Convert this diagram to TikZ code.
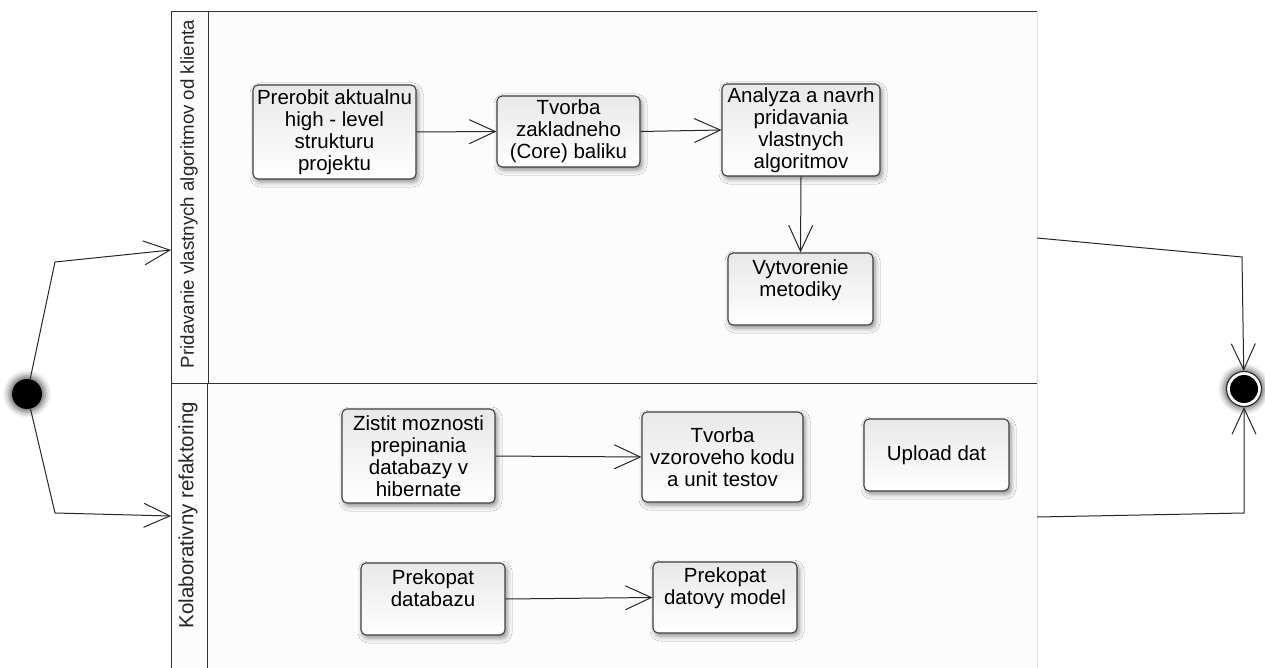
\documentclass[tikz,border=0pt]{standalone}
\usepackage{fontspec}
\setmainfont{Liberation Sans}
\usetikzlibrary{arrows.meta,shadows.blur}
\begin{document}
\begin{tikzpicture}[x=1pt,y=-1pt,
  act/.style={draw=black!75, line width=1.1pt, rounded corners=5pt,
    top color=black!9, bottom color=white,
    blur shadow={shadow xshift=2pt,shadow yshift=-3pt,shadow blur radius=5pt,shadow opacity=45},
    align=center, font=\fontsize{20.5}{22}\selectfont, inner sep=0pt, text=black},
  flow/.style={draw=black!85, line width=1pt,
    -{Straight Barb[length=26pt,width=24pt,line width=1pt]}},
  laneline/.style={draw=black!80, line width=1pt},
  faintline/.style={draw=black!12, line width=1pt},
  lanelabel/.style={rotate=90, text=black!85, inner sep=0pt}
]
\useasboundingbox (0,0) rectangle (1265,668);

% swimlanes
\fill[black!1] (171,12) rectangle (1037,668);
\draw[faintline] (1037,12) -- (1037,668);
\draw[laneline] (1037,12) -- (171,12) -- (171,668);
\draw[laneline] (171,383) -- (1037,383);
\draw[laneline] (208,12) -- (208,383);
\draw[laneline] (207,383) -- (207,668);

\node[lanelabel, font=\fontsize{18.7}{20}\selectfont] (lbl1) at (189,194) {Pridavanie vlastnych algoritmov od klienta};
\node[lanelabel, font=\fontsize{20.5}{22}\selectfont] (lbl2) at (188,515) {Kolaborativny refaktoring};

% activities
\node[act, minimum width=163pt, minimum height=94pt] (n1) at (334.5,132) {Prerobit aktualnu\\high - level\\strukturu\\projektu};
\node[act, minimum width=143pt, minimum height=71pt] (n2) at (568.5,131.5) {Tvorba\\zakladneho\\(Core) baliku};
\node[act, minimum width=158pt, minimum height=92pt] (n3) at (801,130) {Analyza a navrh\\pridavania\\vlastnych\\algoritmov};
\node[act, minimum width=145pt, minimum height=72pt] (n4) at (800.5,289) {Vytvorenie\\metodiky\\~};
\node[act, minimum width=153pt, minimum height=94pt] (n5) at (418.5,456) {Zistit moznosti\\prepinania\\databazy v\\hibernate};
\node[act, minimum width=161pt, minimum height=90pt] (n6) at (722.5,457) {Tvorba\\vzoroveho kodu\\a unit testov};
\node[act, minimum width=145pt, minimum height=72pt] (n7) at (936.5,455) {Upload dat};
\node[act, minimum width=144pt, minimum height=72pt] (n8) at (433,599) {Prekopat\\databazu\\~};
\node[act, minimum width=144pt, minimum height=71pt] (n9) at (725,597.5) {Prekopat\\datovy model\\~};

% start / end
\node[circle, fill=black, minimum size=30pt, inner sep=0pt,
  blur shadow={shadow xshift=0pt,shadow yshift=0pt,shadow scale=1.2,shadow blur radius=5pt,shadow opacity=60}] (start) at (27,394) {};
\node[circle, draw=black!80, line width=1.2pt, fill=white, minimum size=35pt, inner sep=0pt,
  blur shadow={shadow xshift=0pt,shadow yshift=0pt,shadow scale=1.15,shadow blur radius=5pt,shadow opacity=60}] (end) at (1244,389) {};
\fill[black] (end.center) circle (14);

% connector points
\coordinate (b1) at (55,262);
\coordinate (in1) at (171,250);
\coordinate (b2) at (55,513);
\coordinate (in2) at (171,516);
\coordinate (out1) at (1037,238);
\coordinate (b3) at (1242,257);
\coordinate (out2) at (1037,517);
\coordinate (b4) at (1244,513);

\draw[flow] (start) -- (b1) -- (in1);
\draw[flow] (start) -- (b2) -- (in2);
\draw[flow] (out1) -- (b3) -- (end);
\draw[flow] (out2) -- (b4) -- (end);

\draw[flow] (n1.east) -- (n2.west);
\draw[flow] (n2.east) -- (n3.west);
\draw[flow] (n3.south) -- (n4.north);
\draw[flow] (n5.east) -- (n6.west);
\draw[flow] (n8.east) -- (n9.west);
\end{tikzpicture}
\end{document}
